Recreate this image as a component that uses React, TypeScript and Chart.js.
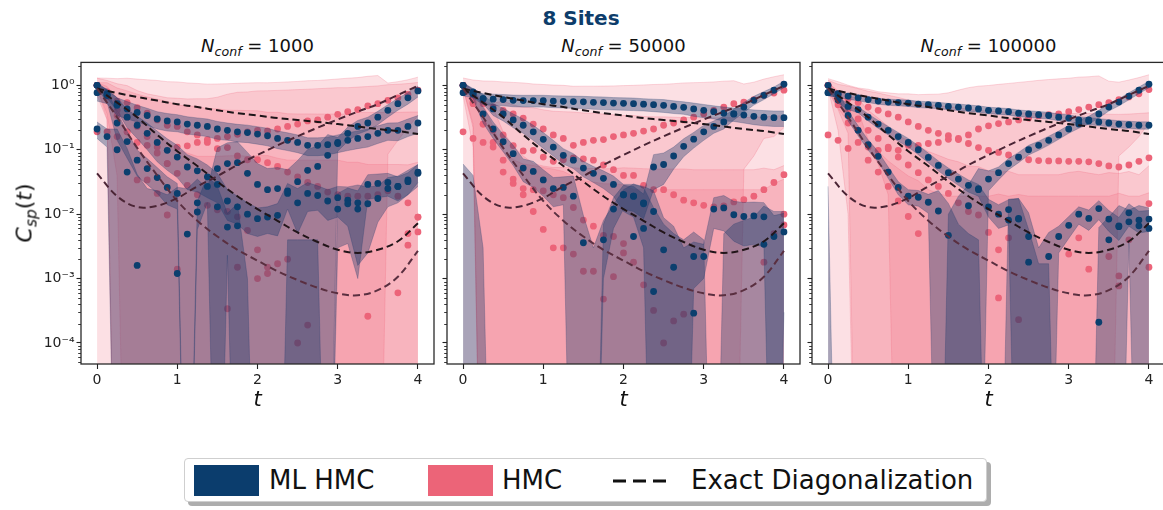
import React, { useEffect, useRef } from "react";
import { Chart, registerables } from "chart.js";
Chart.register(...registerables);

// ---------------- data ----------------
const tPoints = [0, 0.125, 0.25, 0.375, 0.5, 0.625, 0.75, 0.875, 1, 1.125, 1.25, 1.375, 1.5, 1.625, 1.75, 1.875, 2, 2.125, 2.25, 2.375, 2.5, 2.625, 2.75, 2.875, 3, 3.125, 3.25, 3.375, 3.5, 3.625, 3.75, 3.875, 4];

// exact diagonalization curves (same in all panels)
const edTimes = [0, 0.25, 0.5, 0.75, 1, 1.25, 1.5, 1.75, 2, 2.25, 2.5, 2.75, 3, 3.25, 3.5, 3.75, 4];
const edTop = [0.89, 0.76, 0.66, 0.58, 0.51, 0.46, 0.41, 0.37, 0.34, 0.31, 0.29, 0.27, 0.25, 0.23, 0.21, 0.195, 0.175];
const edMid = [0.89, 0.54, 0.32, 0.17, 0.095, 0.056, 0.032, 0.019, 0.012, 0.0079, 0.0052, 0.0037, 0.0028, 0.0025, 0.0028, 0.0038, 0.0072];
const edLow = [0.89, 0.32, 0.107, 0.04, 0.016, 0.0079, 0.0045, 0.0028, 0.0019, 0.0013, 0.00095, 0.00072, 0.00059, 0.00055, 0.00066, 0.00107, 0.0027];
const edRise = [0.043, 0.019, 0.0129, 0.0135, 0.0178, 0.027, 0.039, 0.058, 0.083, 0.117, 0.162, 0.22, 0.295, 0.39, 0.51, 0.71, 0.98];

// ---- N_conf = 1000 ----
const n1MlA = [0.77, 0.70, 0.49, 0.43, 0.38, 0.34, 0.30, 0.28, 0.27, 0.25, 0.24, 0.23, 0.21, 0.20, 0.19, 0.185, 0.175, 0.165, 0.15, 0.14, 0.13, 0.117, 0.117, 0.12, 0.13, 0.14, 0.15, 0.16, 0.18, 0.20, 0.20, 0.23, 0.26];
const n1MlAErr = [0.2, 0.18, 0.15, 0.13, 0.11, 0.1, 0.09, 0.085, 0.08, 0.075, 0.072, 0.07, 0.065, 0.06, 0.058, 0.056, 0.053, 0.05, 0.046, 0.043, 0.04, 0.036, 0.036, 0.037, 0.04, 0.043, 0.046, 0.05, 0.055, 0.06, 0.062, 0.07, 0.08];
const n1MlB = [1.0, 0.74, 0.52, 0.32, 0.24, 0.18, 0.13, 0.098, 0.077, 0.054, 0.047, 0.038, 0.029, 0.016, 0.013, 0.010, 0.0085, 0.009, 0.0096, 0.021, 0.015, 0.021, 0.0195, 0.016, 0.018, 0.0165, 0.015, 0.0145, 0.0175, 0.025, 0.027, 0.034, 0.043];
const n1MlBErr = [0.1, 0.1, 0.12, 0.1, 0.09, 0.08, 0.065, 0.05, 0.04, 0.03, 0.025, 0.02, 0.014, 0.008, 0.006, 0.005, 0.004, 0.004, 0.005, 0.009, 0.01, 0.01, 0.008, 0.008, 0.009, 0.01, 0.0134, 0.012, 0.01, 0.012, 0.012, 0.014, 0.016];
const n1MlC = [1.0, 0.70, 0.26, 0.134, 0.069, 0.051, 0.037, 0.026, 0.021, -0.001, 0.0108, 0.027, 0.013, 0.0063, 0.0066, -0.002, -0.002, -0.002, -0.002, -0.002, -0.002, -0.002, -0.002, -0.002, 0.012, 0.0145, 0.012, 0.029, 0.03, 0.031, 0.027, 0.032, 0.045];
const n1MlCErr = [0.1, 0.15, 0.12, 0.06, 0.03, 0.022, 0.016, 0.012, 0.009, 0.0005, 0.005, 0.012, 0.014, 0.004, 0.008, 0.003, 0.001, 0.001, 0.001, 0.006, 0.006, 0.006, 0.006, 0.001, 0.009, 0.011, 0.011, 0.012, 0.012, 0.012, 0.011, 0.012, 0.014];
const n1MlD = [0.21, 0.16, 0.10, 0.045, 0.0016, -0.01, -0.01, -0.01, 0.0012, 0.0049, 0.015, -0.005, 0.051, 0.061, 0.063, 0.043, 0.029, 0.024, 0.025, 0.023, 0.032, 0.048, 0.055, 0.082, 0.125, 0.18, 0.23, 0.26, 0.32, 0.41, 0.52, 0.64, 0.82];
const n1MlDErr = [0.06, 0.05, 0.11, 0.06, 0.04, 0.035, 0.033, 0.03, 0.025, 0.02, 0.02, 0.03, 0.056, 0.067, 0.07, 0.048, 0.032, 0.027, 0.028, 0.026, 0.036, 0.053, 0.06, 0.09, 0.03, 0.045, 0.055, 0.06, 0.075, 0.09, 0.11, 0.13, 0.16];
const n1HmcA = [1.0, 0.79, 0.57, 0.54, 0.45, 0.37, 0.29, 0.24, 0.23, 0.19, 0.17, 0.144, 0.15, 0.16, 0.174, 0.19, 0.20, 0.196, 0.21, 0.23, 0.25, 0.28, 0.29, 0.32, 0.355, 0.39, 0.42, 0.48, 0.52, 0.585, 0.64, 0.72, 0.84];
const n1HmcAErr = [0.3, 0.5, 0.7, 0.75, 0.8, 0.85, 0.9, 0.9, 0.9, 0.9, 0.9, 0.9, 0.9, 0.9, 0.9, 0.9, 0.9, 0.9, 0.9, 0.9, 0.9, 0.9, 0.9, 0.9, 0.9, 0.9, 0.9, 0.9, 0.9, 0.5, 0.5, 0.5, 0.5];
const n1HmcB = [0.19, 0.19, 0.16, 0.19, 0.13, 0.117, 0.089, 0.061, 0.11, 0.115, 0.13, 0.13, 0.104, 0.108, 0.08, 0.07, 0.07, 0.063, 0.055, 0.045, 0.038, 0.031, 0.027, 0.022, 0.02, 0.019, 0.019, 0.019, 0.02, 0.023, 0.019, 0.015, 0.009];
const n1HmcBErr = [1.1, 1.0, 0.9, 0.8, 0.7, 0.62, 0.6, 0.58, 0.52, 0.5, 0.49, 0.49, 0.55, 0.62, 0.7, 0.72, 0.75, 0.76, 0.78, 0.8, 0.82, 0.84, 0.86, 0.88, 0.9, 0.9, 0.92, 0.94, 0.96, 1.0, 1.02, 1.05, 1.1];
const n1HmcC = [1.0, 0.70, 0.41, 0.32, 0.23, 0.16, 0.11, 0.061, 0.043, 0.028, 0.020, 0.0137, 0.0117, 0.011, 0.0091, 0.0056, 0.0028, 0.0015, 0.0017, 0.002, 0.0001, 0.00019, -0.001, -0.001, -0.001, -0.001, -0.001, 0.00026, -0.001, -0.001, 0.0006, 0.005, 0.0053];
const n1HmcCErr = [0.1, 0.4, 0.5, 0.5, 0.5, 0.5, 0.5, 0.5, 0.45, 0.45, 0.45, 0.42, 0.42, 0.4, 0.4, 0.4, 0.4, 0.38, 0.38, 0.36, 0.36, 0.36, 0.36, 0.36, 0.36, 0.36, 0.38, 0.38, 0.38, 0.38, 0.38, 0.38, 0.38];
const n1HmcD = [1.0, 0.66, 0.34, 0.19, 0.034, 0.034, 0.021, 0.0097, 0.0014, -0.001, -0.001, -0.001, -0.001, 0.00034, 0.0015, -0.001, 0.001, 0.0012, -0.001, -0.001, -0.001, -0.001, -0.001, -0.001, -0.001, -0.001, -0.001, -0.001, -0.001, -0.001, -0.001, 0.0033, 0.009];
const n1HmcDErr = [0.1, 0.3, 0.3, 0.3, 0.25, 0.2, 0.15, 0.12, 0.1, 0.09, 0.08, 0.08, 0.08, 0.08, 0.08, 0.08, 0.08, 0.08, 0.075, 0.07, 0.07, 0.07, 0.07, 0.07, 0.07, 0.065, 0.065, 0.06, 0.06, 0.06, 0.06, 0.055, 0.055];

// ---- N_conf = 50000 ----
const n2MlA = [0.77, 0.74, 0.62, 0.61, 0.60, 0.585, 0.58, 0.58, 0.58, 0.57, 0.565, 0.56, 0.555, 0.545, 0.54, 0.53, 0.525, 0.52, 0.51, 0.50, 0.49, 0.47, 0.455, 0.43, 0.41, 0.39, 0.37, 0.36, 0.345, 0.33, 0.32, 0.315, 0.315];
const n2MlAErr = [0.08, 0.1, 0.12, 0.12, 0.12, 0.12, 0.12, 0.12, 0.12, 0.12, 0.12, 0.12, 0.12, 0.12, 0.12, 0.115, 0.115, 0.115, 0.11, 0.11, 0.11, 0.105, 0.1, 0.1, 0.095, 0.09, 0.09, 0.085, 0.085, 0.085, 0.085, 0.085, 0.085];
const n2MlB = [1.0, 0.79, 0.62, 0.43, 0.36, 0.29, 0.24, 0.19, 0.145, 0.11, 0.082, 0.069, 0.052, 0.043, 0.036, 0.029, 0.020, 0.019, 0.015, 0.011, 0.0028, 0.0015, -0.001, 0.0022, 0.0022, 0.012, 0.0125, 0.0098, 0.0092, 0.0094, 0.0091, 0.0045, 0.0053];
const n2MlBErr = [0.1, 0.1, 0.1, 0.09, 0.08, 0.07, 0.06, 0.05, 0.04, 0.03, 0.022, 0.018, 0.014, 0.012, 0.011, 0.01, 0.009, 0.01, 0.012, 0.012, 0.006, 0.005, 0.004, 0.0015, 0.0012, 0.006, 0.007, 0.006, 0.006, 0.006, 0.006, 0.005, 0.005];
const n2MlC = [1.0, 0.74, 0.36, 0.21, 0.133, 0.087, 0.052, 0.046, 0.034, 0.025, 0.026, 0.019, 0.0036, -0.001, -0.001, -0.001, -0.001, 0.0045, 0.006, 0.00063, -0.001, -0.001, -0.001, 0.00029, -0.001, -0.001, -0.001, -0.001, -0.001, -0.001, 0.0034, -0.001, -0.001];
const n2MlCErr = [0.1, 0.12, 0.1, 0.06, 0.04, 0.03, 0.02, 0.02, 0.015, 0.012, 0.012, 0.02, 0.006, 0.004, 0.009, 0.015, 0.025, 0.025, 0.02, 0.012, 0.008, 0.006, 0.005, 0.005, 0.005, 0.0005, 0.006, 0.008, 0.009, 0.01, 0.01, 0.012, 0.012];
const n2MlD = [-0.01, -0.01, -0.002, -0.001, -0.001, -0.001, -0.001, -0.001, -0.001, -0.001, -0.001, -0.001, -0.001, -0.002, 0.004, 0.012, 0.02, 0.019, 0.0145, 0.054, 0.059, 0.08, 0.113, 0.146, 0.19, 0.23, 0.27, 0.36, 0.46, 0.585, 0.70, 0.84, 1.04];
const n2MlDErr = [0.07, 0.05, 0.005, 0.0005, 0.0005, 0.0005, 0.0005, 0.0005, 0.0005, 0.0005, 0.0005, 0.0005, 0.0005, 0.001, 0.003, 0.006, 0.008, 0.008, 0.006, 0.03, 0.03, 0.03, 0.035, 0.04, 0.05, 0.05, 0.06, 0.07, 0.08, 0.09, 0.1, 0.1, 0.12];
const n2HmcA = [1.0, 0.66, 0.52, 0.46, 0.41, 0.36, 0.31, 0.25, 0.21, 0.17, 0.15, 0.117, 0.13, 0.14, 0.144, 0.16, 0.17, 0.18, 0.195, 0.21, 0.24, 0.26, 0.29, 0.32, 0.36, 0.41, 0.46, 0.52, 0.55, 0.60, 0.70, 0.76, 0.84];
const n2HmcAErr = [0.3, 0.55, 0.65, 0.7, 0.72, 0.75, 0.78, 0.8, 0.82, 0.84, 0.85, 0.85, 0.84, 0.83, 0.83, 0.82, 0.82, 0.82, 0.82, 0.82, 0.8, 0.8, 0.8, 0.78, 0.75, 0.72, 0.7, 0.66, 0.5, 0.52, 0.55, 0.6, 0.62];
const n2HmcB = [0.19, 0.15, 0.13, 0.13, 0.17, 0.116, 0.096, 0.098, 0.077, 0.066, 0.07, 0.075, 0.072, 0.069, 0.058, 0.049, 0.04, 0.04, 0.028, 0.024, 0.024, 0.02, 0.0165, 0.015, 0.0137, 0.013, 0.0134, 0.0155, 0.0168, 0.019, 0.024, 0.031, 0.041];
const n2HmcBErr = [0.5, 0.45, 0.4, 0.4, 0.4, 0.38, 0.36, 0.35, 0.34, 0.33, 0.32, 0.31, 0.3, 0.3, 0.3, 0.3, 0.3, 0.3, 0.3, 0.3, 0.3, 0.3, 0.3, 0.3, 0.3, 0.3, 0.3, 0.3, 0.3, 0.3, 0.3, 0.3, 0.3];
const n2HmcC = [1.0, 0.55, 0.25, 0.2, 0.069, 0.035, 0.02, 0.011, 0.0058, 0.003, 0.003, 0.0024, 0.0013, 0.0013, 0.00048, 0.00107, 0.0025, 0.0018, 0.0008, 0.00032, 0.0001, 0.00022, 0.00028, -0.001, -0.001, -0.001, -0.001, -0.001, -0.001, -0.001, 0.0018, -0.001, 0.0068];
const n2HmcCErr = [0.1, 0.3, 0.3, 0.25, 0.12, 0.08, 0.06, 0.05, 0.05, 0.05, 0.05, 0.05, 0.05, 0.05, 0.05, 0.05, 0.05, 0.05, 0.05, 0.05, 0.05, 0.05, 0.05, 0.05, 0.05, 0.05, 0.05, 0.05, 0.05, 0.05, 0.05, 0.05, 0.05];
const n2HmcD = [1.0, 0.52, 0.25, 0.11, 0.045, 0.03, 0.025, 0.024, 0.023, 0.02, 0.018, 0.0127, 0.0081, 0.0065, 0.0047, 0.0045, 0.0035, -0.001, -0.001, -0.001, -0.001, -0.001, -0.001, -0.001, -0.001, -0.001, -0.001, -0.001, -0.001, -0.001, -0.001, 0.005, 0.01];
const n2HmcDErr = [0.1, 0.3, 0.25, 0.12, 0.05, 0.04, 0.035, 0.033, 0.03, 0.03, 0.028, 0.026, 0.025, 0.025, 0.025, 0.025, 0.025, 0.025, 0.025, 0.025, 0.025, 0.025, 0.025, 0.025, 0.025, 0.025, 0.025, 0.025, 0.025, 0.025, 0.025, 0.025, 0.025];

// ---- N_conf = 100000 ----
const n3MlA = [0.77, 0.72, 0.68, 0.64, 0.60, 0.57, 0.55, 0.54, 0.53, 0.51, 0.50, 0.49, 0.47, 0.46, 0.445, 0.43, 0.41, 0.40, 0.39, 0.37, 0.36, 0.35, 0.34, 0.32, 0.31, 0.29, 0.28, 0.27, 0.26, 0.25, 0.245, 0.24, 0.24];
const n3MlAErr = [0.08, 0.07, 0.07, 0.065, 0.06, 0.06, 0.06, 0.06, 0.06, 0.058, 0.057, 0.056, 0.054, 0.053, 0.051, 0.05, 0.048, 0.047, 0.046, 0.044, 0.043, 0.042, 0.041, 0.039, 0.038, 0.036, 0.035, 0.034, 0.033, 0.032, 0.032, 0.031, 0.031];
const n3MlB = [1.0, 0.59, 0.47, 0.42, 0.32, 0.25, 0.20, 0.16, 0.13, 0.10, 0.076, 0.057, 0.044, 0.035, 0.028, 0.024, 0.013, 0.010, 0.0118, 0.0086, 0.0045, -0.001, 0.0022, 0.0045, 0.0067, 0.010, 0.0086, 0.0122, 0.0084, 0.0064, 0.0105, 0.0081, 0.0084];
const n3MlBErr = [0.1, 0.06, 0.05, 0.045, 0.04, 0.035, 0.03, 0.025, 0.02, 0.016, 0.013, 0.01, 0.008, 0.007, 0.006, 0.005, 0.004, 0.004, 0.005, 0.009, 0.006, 0.004, 0.003, 0.002, 0.0025, 0.003, 0.003, 0.004, 0.003, 0.0025, 0.004, 0.003, 0.003];
const n3MlC = [0.77, 0.74, 0.34, 0.20, 0.12, 0.079, 0.045, 0.026, 0.019, 0.0183, 0.0153, 0.0112, 0.0047, -0.001, -0.001, -0.001, -0.001, -0.001, 0.0081, 0.0084, 0.0018, -0.0003, -0.0003, -0.0003, -0.0003, -0.0003, -0.0003, 0.00021, 0.004, 0.0066, 0.0076, 0.0066, 0.006];
const n3MlCErr = [0.08, 0.08, 0.06, 0.035, 0.022, 0.014, 0.009, 0.006, 0.005, 0.005, 0.005, 0.012, 0.01, 0.008, 0.006, 0.005, 0.0005, 0.0005, 0.009, 0.009, 0.004, 0.002, 0.002, 0.0002, 0.0002, 0.0002, 0.0002, 0.006, 0.005, 0.007, 0.004, 0.007, 0.0065];
const n3MlD = [-0.002, -0.001, -0.001, -0.001, -0.001, -0.001, -0.001, -0.001, -0.001, -0.001, -0.001, -0.001, -0.002, -0.001, 0.0135, 0.025, 0.035, 0.044, 0.061, 0.077, 0.10, 0.117, 0.14, 0.17, 0.21, 0.25, 0.29, 0.36, 0.46, 0.55, 0.68, 0.84, 1.04];
const n3MlDErr = [0.029, 0.0005, 0.0005, 0.0005, 0.0005, 0.0005, 0.0005, 0.0005, 0.0005, 0.0005, 0.0005, 0.0005, 0.012, 0.02, 0.015, 0.026, 0.012, 0.01, 0.012, 0.014, 0.017, 0.019, 0.022, 0.025, 0.03, 0.035, 0.04, 0.05, 0.06, 0.07, 0.085, 0.1, 0.12];
const n3HmcA = [1.0, 0.74, 0.62, 0.54, 0.46, 0.41, 0.36, 0.32, 0.27, 0.23, 0.20, 0.18, 0.165, 0.15, 0.125, 0.108, 0.098, 0.091, 0.083, 0.076, 0.070, 0.068, 0.067, 0.067, 0.066, 0.066, 0.065, 0.061, 0.056, 0.054, 0.058, 0.066, 0.075];
const n3HmcAErr = [0.2, 0.3, 0.35, 0.35, 0.35, 0.35, 0.34, 0.33, 0.32, 0.31, 0.3, 0.3, 0.3, 0.3, 0.3, 0.3, 0.3, 0.3, 0.3, 0.3, 0.3, 0.3, 0.3, 0.3, 0.3, 0.3, 0.3, 0.3, 0.3, 0.3, 0.3, 0.3, 0.3];
const n3HmcB = [0.17, 0.14, 0.105, 0.13, 0.11, 0.098, 0.104, 0.098, 0.117, 0.117, 0.125, 0.13, 0.145, 0.144, 0.17, 0.21, 0.235, 0.255, 0.27, 0.29, 0.31, 0.335, 0.35, 0.36, 0.39, 0.42, 0.46, 0.50, 0.54, 0.60, 0.66, 0.74, 0.86];
const n3HmcBErr = [1.1, 1.0, 0.9, 0.78, 0.76, 0.7, 0.66, 0.64, 0.62, 0.6, 0.6, 0.6, 0.62, 0.7, 0.75, 0.76, 0.76, 0.78, 0.8, 0.82, 0.84, 0.86, 0.88, 0.9, 0.9, 0.92, 0.9, 0.9, 0.62, 0.52, 0.55, 0.58, 0.6];
const n3HmcC = [1.0, 0.62, 0.43, 0.30, 0.20, 0.15, 0.11, 0.077, 0.058, 0.044, 0.034, 0.027, 0.021, 0.015, 0.011, 0.0097, 0.0052, 0.0028, 0.0043, -0.001, -0.001, -0.001, -0.001, -0.001, 0.0024, 0.0043, 0.0014, -0.001, 0.0022, 0.00077, 0.004, -0.001, 0.0146];
const n3HmcCErr = [0.1, 0.2, 0.25, 0.32, 0.21, 0.16, 0.12, 0.09, 0.08, 0.07, 0.06, 0.055, 0.05, 0.05, 0.045, 0.045, 0.042, 0.042, 0.042, 0.042, 0.042, 0.042, 0.042, 0.042, 0.042, 0.042, 0.042, 0.042, 0.042, 0.042, 0.042, 0.042, 0.042];
const n3HmcD = [1.0, 0.50, 0.26, 0.20, 0.069, 0.045, 0.027, 0.016, 0.0092, 0.005, -0.001, -0.001, -0.001, -0.001, -0.001, -0.001, -0.001, 0.0005, -0.001, 0.00023, -0.001, -0.001, -0.001, -0.001, -0.001, -0.001, -0.001, -0.001, -0.001, 0.0011, -0.001, -0.001, 0.0015];
const n3HmcDErr = [0.1, 0.3, 0.25, 0.2, 0.075, 0.05, 0.04, 0.035, 0.03, 0.028, 0.025, 0.022, 0.02, 0.02, 0.02, 0.02, 0.02, 0.02, 0.02, 0.02, 0.02, 0.02, 0.02, 0.02, 0.02, 0.02, 0.02, 0.02, 0.02, 0.02, 0.02, 0.02, 0.02];

// axis ticks
const xTickValues = [0, 1, 2, 3, 4];
const xTickLabels = ["0", "1", "2", "3", "4"];
const yTickValues = [1e-4, 1e-3, 1e-2, 1e-1, 1];
const yTickLabels = ["10\u207B\u2074", "10\u207B\u00B3", "10\u207B\u00B2", "10\u207B\u00B9", "10\u2070"];
const yMinorTicks = [5e-5, 6e-5, 7e-5, 8e-5, 9e-5, 2e-4, 3e-4, 4e-4, 5e-4, 6e-4, 7e-4, 8e-4, 9e-4, 2e-3, 3e-3, 4e-3, 5e-3, 6e-3, 7e-3, 8e-3, 9e-3, 2e-2, 3e-2, 4e-2, 5e-2, 6e-2, 7e-2, 8e-2, 9e-2, 0.2, 0.3, 0.4, 0.5, 0.6, 0.7, 0.8, 0.9, 2];
const panelConfs = ["1000", "50000", "100000"];

// ---------------- styling / layout ----------------
const FONT = "'DejaVu Sans', sans-serif";
const ML_POINT = "#0b3f6e";
const HMC_POINT = "#ec6479";
const ML_FILL = "rgba(22,56,104,0.36)";
const ML_EDGE = "rgba(22,56,104,0.32)";
const HMC_FILL = "rgba(238,98,120,0.2)";
const HMC_EDGE = "rgba(238,98,120,0.3)";
const ED_COLORS = ["#1c1418", "#221519", "#5a2f40", "#4b2535"];

const Y_MIN = 4.72e-5;
const Y_MAX = 2.27;
const PLOT_TOP = 62;
const PLOT_W = 353;
const PLOT_H = 302;
const AX_L = 70;
const PAD_T = 10;
const PAD_R = 10;
const AX_B = 45;
const PANEL_LEFTS = [81, 447, 812];

type Pair = [number[], number[]];
type PanelData = { ml: Pair[]; hmc: Pair[] };

const PANELS: PanelData[] = [
  {
    ml: [[n1MlA, n1MlAErr], [n1MlB, n1MlBErr], [n1MlC, n1MlCErr], [n1MlD, n1MlDErr]],
    hmc: [[n1HmcA, n1HmcAErr], [n1HmcB, n1HmcBErr], [n1HmcC, n1HmcCErr], [n1HmcD, n1HmcDErr]],
  },
  {
    ml: [[n2MlA, n2MlAErr], [n2MlB, n2MlBErr], [n2MlC, n2MlCErr], [n2MlD, n2MlDErr]],
    hmc: [[n2HmcA, n2HmcAErr], [n2HmcB, n2HmcBErr], [n2HmcC, n2HmcCErr], [n2HmcD, n2HmcDErr]],
  },
  {
    ml: [[n3MlA, n3MlAErr], [n3MlB, n3MlBErr], [n3MlC, n3MlCErr], [n3MlD, n3MlDErr]],
    hmc: [[n3HmcA, n3HmcAErr], [n3HmcB, n3HmcBErr], [n3HmcC, n3HmcCErr], [n3HmcD, n3HmcDErr]],
  },
];

const FLOOR = 1e-9;
const pos = (v: number) => (v > 0 ? v : FLOOR);

function buildDatasets(p: PanelData) {
  const ds: any[] = [];
  const band = (val: number[], err: number[], fill: string, edge: string) => {
    ds.push({
      data: tPoints.map((t, i) => ({ x: t, y: pos(val[i] + err[i]) })),
      fill: "+1",
      backgroundColor: fill,
      borderColor: edge,
      borderWidth: 0.8,
      pointRadius: 0,
      tension: 0,
    });
    ds.push({
      data: tPoints.map((t, i) => ({ x: t, y: pos(val[i] - err[i]) })),
      fill: false,
      borderColor: edge,
      borderWidth: 0.8,
      pointRadius: 0,
      tension: 0,
    });
  };
  const dots = (val: number[], color: string) => {
    ds.push({
      data: tPoints.map((t, i) => ({ x: t, y: val[i] > 0 ? val[i] : null })),
      showLine: false,
      pointRadius: 3.4,
      pointBackgroundColor: color,
      pointBorderColor: color,
      pointBorderWidth: 0,
      fill: false,
    });
  };
  p.hmc.forEach(([v, e]) => band(v, e, HMC_FILL, HMC_EDGE));
  p.hmc.forEach(([v]) => dots(v, HMC_POINT));
  p.ml.forEach(([v, e]) => band(v, e, ML_FILL, ML_EDGE));
  p.ml.forEach(([v]) => dots(v, ML_POINT));
  [edTop, edMid, edLow, edRise].forEach((ed, k) => {
    ds.push({
      data: edTimes.map((t, i) => ({ x: t, y: ed[i] })),
      borderColor: ED_COLORS[k],
      borderWidth: 2,
      borderDash: [7, 4],
      pointRadius: 0,
      tension: 0.35,
      fill: false,
    });
  });
  const n = ds.length;
  ds.forEach((d, k) => (d.order = n - k));
  return ds;
}

const framePlugin = {
  id: "frameTicks",
  afterDraw(chart: any) {
    const { ctx, chartArea: a } = chart;
    const y = chart.scales.y;
    ctx.save();
    ctx.strokeStyle = "#222";
    ctx.lineWidth = 0.9;
    for (const v of yMinorTicks) {
      const py = Math.round(y.getPixelForValue(v)) + 0.5;
      if (py < a.top || py > a.bottom) continue;
      ctx.beginPath();
      ctx.moveTo(a.left, py);
      ctx.lineTo(a.left - 2.8, py);
      ctx.stroke();
    }
    ctx.strokeStyle = "#2a2a2a";
    ctx.lineWidth = 1.3;
    ctx.strokeRect(a.left, a.top, a.right - a.left, a.bottom - a.top);
    ctx.restore();
  },
};

function Panel({ index }: { index: number }) {
  const ref = useRef<HTMLCanvasElement>(null);
  const showY = index === 0;
  useEffect(() => {
    const chart = new Chart(ref.current as HTMLCanvasElement, {
      type: "line",
      data: { datasets: buildDatasets(PANELS[index]) },
      options: {
        responsive: false,
        maintainAspectRatio: false,
        animation: false,
        events: [],
        layout: { padding: { left: 0, top: PAD_T, right: PAD_R, bottom: 0 } },
        plugins: {
          legend: { display: false },
          tooltip: { enabled: false },
          title: { display: false },
          filler: { drawTime: "beforeDatasetDraw" },
        } as any,
        scales: {
          x: {
            type: "linear",
            min: -0.2,
            max: 4.2,
            afterBuildTicks: (ax: any) => {
              ax.ticks = xTickValues.map((v) => ({ value: v }));
            },
            afterFit: (ax: any) => {
              ax.height = AX_B;
            },
            ticks: {
              autoSkip: false,
              maxRotation: 0,
              padding: 3,
              color: "#222",
              font: { family: FONT, size: 14 },
              callback: (_v: any, i: number) => xTickLabels[i],
            },
            grid: { drawOnChartArea: false, drawTicks: true, tickLength: 5, color: "#222", tickWidth: 1.1 },
            border: { display: false },
          },
          y: {
            type: "logarithmic",
            min: Y_MIN,
            max: Y_MAX,
            afterBuildTicks: (ax: any) => {
              ax.ticks = yTickValues.map((v) => ({ value: v }));
            },
            afterFit: (ax: any) => {
              ax.width = AX_L;
            },
            ticks: {
              autoSkip: false,
              padding: 2,
              color: "#222",
              font: { family: FONT, size: 14 },
              callback: (_v: any, i: number) => (showY ? yTickLabels[i] : ""),
            },
            grid: { drawOnChartArea: false, drawTicks: true, tickLength: 4.5, color: "#222", tickWidth: 1.1 },
            border: { display: false },
          },
        } as any,
      },
      plugins: [framePlugin],
    });
    return () => chart.destroy();
  }, [index]);
  const left = PANEL_LEFTS[index] - AX_L;
  return (
    <canvas
      ref={ref}
      width={AX_L + PLOT_W + PAD_R}
      height={PAD_T + PLOT_H + AX_B}
      style={{ position: "absolute", left, top: PLOT_TOP - PAD_T, width: AX_L + PLOT_W + PAD_R, height: PAD_T + PLOT_H + AX_B }}
    />
  );
}

export default function App() {
  return (
    <div
      style={{
        position: "absolute",
        left: 0,
        top: 0,
        width: 1163,
        height: 510,
        overflow: "hidden",
        background: "#fff",
        fontFamily: FONT,
        color: "#111",
      }}
    >
      <div
        style={{
          position: "absolute",
          left: 581,
          top: 6,
          transform: "translateX(-50%)",
          fontSize: 20,
          fontWeight: "bold",
          color: "#0d3d6b",
          whiteSpace: "nowrap",
        }}
      >
        8 Sites
      </div>
      {panelConfs.map((c, i) => (
        <div
          key={"t" + i}
          style={{
            position: "absolute",
            left: PANEL_LEFTS[i] + PLOT_W / 2,
            top: 35,
            transform: "translateX(-50%)",
            fontSize: 18,
            whiteSpace: "nowrap",
          }}
        >
          <i>N</i>
          <span style={{ fontSize: "0.7em", fontStyle: "italic", position: "relative", top: "0.3em" }}>conf</span>
          <span> = {c}</span>
        </div>
      ))}
      {[0, 1, 2].map((i) => (
        <Panel key={i} index={i} />
      ))}
      {[0, 1, 2].map((i) => (
        <div
          key={"x" + i}
          style={{
            position: "absolute",
            left: PANEL_LEFTS[i] + PLOT_W / 2,
            top: 387,
            transform: "translateX(-50%)",
            fontSize: 21,
            fontStyle: "italic",
          }}
        >
          t
        </div>
      ))}
      <div
        style={{
          position: "absolute",
          left: 24,
          top: 213,
          transform: "translate(-50%,-50%) rotate(-90deg)",
          fontSize: 22,
          whiteSpace: "nowrap",
        }}
      >
        <i>C</i>
        <span style={{ fontSize: "0.7em", fontStyle: "italic", position: "relative", top: "0.3em" }}>sp</span>
        <span>(</span>
        <i>t</i>
        <span>)</span>
      </div>
      <div
        style={{
          position: "absolute",
          left: 184,
          top: 458,
          width: 803,
          height: 44,
          boxSizing: "border-box",
          border: "1px solid #cfcfcf",
          borderRadius: 4,
          background: "#fff",
          boxShadow: "4px 4px 0 rgba(0,0,0,0.32)",
          fontSize: 26,
        }}
      >
        <div style={{ position: "absolute", left: 9, top: 6, width: 65, height: 31, background: "#0b3d6d" }} />
        <span style={{ position: "absolute", left: 84, top: 0, lineHeight: "42px" }}>ML HMC</span>
        <div style={{ position: "absolute", left: 243, top: 6, width: 65, height: 31, background: "#ec6478" }} />
        <span style={{ position: "absolute", left: 317, top: 0, lineHeight: "42px" }}>HMC</span>
        <svg style={{ position: "absolute", left: 428, top: 14 }} width={58} height={16}>
          <line x1={0} y1={8} x2={58} y2={8} stroke="#111" strokeWidth={3.2} strokeDasharray="13 7" />
        </svg>
        <span style={{ position: "absolute", left: 506, top: 0, lineHeight: "42px" }}>Exact Diagonalization</span>
      </div>
    </div>
  );
}
